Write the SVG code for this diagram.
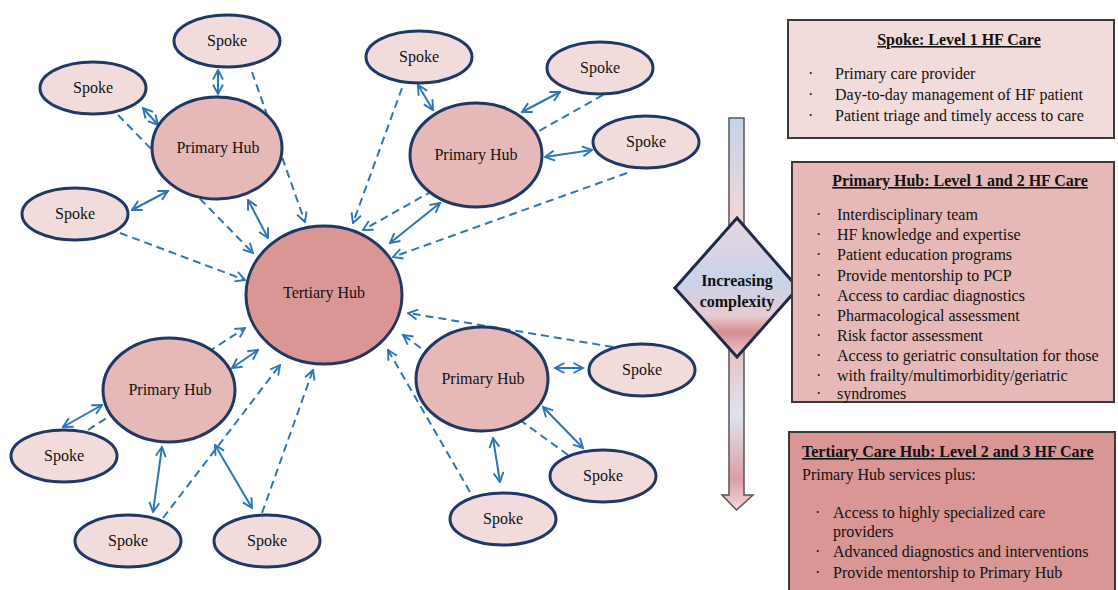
<svg xmlns="http://www.w3.org/2000/svg" width="1118" height="590" viewBox="0 0 1118 590">
<defs>
<style>
.lbl{font-family:"Liberation Serif","Times New Roman",serif;font-size:16px;fill:#111;text-anchor:middle}
.spoke{fill:#f2dcdb;stroke:#1f3864;stroke-width:3}
.phub{fill:#e6b9b8;stroke:#1f3864;stroke-width:3}
.thub{fill:#d99694;stroke:#1f3864;stroke-width:3}
.dbl{fill:none;stroke:#2e75b6;stroke-width:2;marker-start:url(#ah);marker-end:url(#ah)}
.dsh{fill:none;stroke:#2e75b6;stroke-width:2;stroke-dasharray:8 5;marker-end:url(#ah)}
.box{stroke:#3a3a3a;stroke-width:2}
.bt{font-family:"Liberation Serif","Times New Roman",serif;font-size:16px;fill:#111}
.ttl{font-weight:bold;text-decoration:underline}
.dt{font-family:"Liberation Serif","Times New Roman",serif;font-size:16px;font-weight:bold;fill:#111;text-anchor:middle}
</style>
<marker id="ah" viewBox="0 0 12 12" refX="10.5" refY="6" markerWidth="12" markerHeight="12" markerUnits="userSpaceOnUse" orient="auto-start-reverse">
<path d="M1,1 L10.5,6 L1,11" fill="none" stroke="#2e75b6" stroke-width="1.9"/>
</marker>
<linearGradient id="shaft" x1="0" y1="118" x2="0" y2="510" gradientUnits="userSpaceOnUse">
<stop offset="0" stop-color="#c5d3ea"/>
<stop offset="0.25" stop-color="#f0d6d8"/>
<stop offset="0.6" stop-color="#e8c4c8"/>
<stop offset="0.76" stop-color="#dfe3f0"/>
<stop offset="0.92" stop-color="#dc9ea2"/>
<stop offset="1" stop-color="#f0d8dc"/>
</linearGradient>
<linearGradient id="dia" x1="0" y1="218" x2="0" y2="357" gradientUnits="userSpaceOnUse">
<stop offset="0" stop-color="#ead6e0"/>
<stop offset="0.45" stop-color="#c8d3ea"/>
<stop offset="0.7" stop-color="#e6cbd2"/>
<stop offset="0.82" stop-color="#d58f94"/>
<stop offset="1" stop-color="#ecc8cc"/>
</linearGradient>
</defs>
<rect width="1118" height="590" fill="#ffffff"/>

<g id="connectors">
<line class="dbl" x1="218" y1="70" x2="218" y2="94"/>
<line class="dbl" x1="143" y1="108" x2="158" y2="125"/>
<line class="dbl" x1="132" y1="210" x2="168" y2="191"/>
<line class="dbl" x1="248" y1="200" x2="268" y2="238"/>
<line class="dbl" x1="418" y1="85" x2="433" y2="110"/>
<line class="dbl" x1="560" y1="92" x2="522" y2="112"/>
<line class="dbl" x1="545" y1="157" x2="592" y2="150"/>
<line class="dbl" x1="440" y1="203" x2="390" y2="243"/>
<line class="dbl" x1="232" y1="368" x2="258" y2="350"/>
<line class="dbl" x1="63" y1="427" x2="102" y2="405"/>
<line class="dbl" x1="153" y1="512" x2="162" y2="447"/>
<line class="dbl" x1="252" y1="508" x2="215" y2="445"/>
<line class="dbl" x1="555" y1="368" x2="583" y2="368"/>
<line class="dbl" x1="543" y1="407" x2="583" y2="448"/>
<line class="dbl" x1="493" y1="438" x2="500" y2="482"/>
<line class="dsh" x1="252" y1="72" x2="305" y2="222"/>
<line class="dsh" x1="118" y1="115" x2="253" y2="253"/>
<line class="dsh" x1="120" y1="233" x2="245" y2="280"/>
<line class="dsh" x1="402" y1="88" x2="353" y2="223"/>
<line class="dsh" x1="603" y1="95" x2="363" y2="230"/>
<line class="dsh" x1="627" y1="173" x2="393" y2="257"/>
<line class="dsh" x1="88" y1="430" x2="245" y2="328"/>
<line class="dsh" x1="163" y1="518" x2="280" y2="365"/>
<line class="dsh" x1="262" y1="513" x2="313" y2="370"/>
<line class="dsh" x1="613" y1="347" x2="408" y2="313"/>
<line class="dsh" x1="568" y1="455" x2="403" y2="335"/>
<line class="dsh" x1="470" y1="492" x2="388" y2="350"/>
</g>

<g id="tertiary-hub"><ellipse class="thub" cx="324" cy="295" rx="78" ry="69"/><text class="lbl" x="324" y="298">Tertiary Hub</text></g>
<g id="primary-hub-tl"><ellipse class="phub" cx="217" cy="148" rx="65" ry="51"/><text class="lbl" x="218" y="153">Primary Hub</text></g>
<g id="primary-hub-tr"><ellipse class="phub" cx="476" cy="155" rx="66" ry="52"/><text class="lbl" x="476" y="160">Primary Hub</text></g>
<g id="primary-hub-bl"><ellipse class="phub" cx="169" cy="390" rx="66" ry="52"/><text class="lbl" x="170" y="395">Primary Hub</text></g>
<g id="primary-hub-br"><ellipse class="phub" cx="482" cy="379" rx="66" ry="52"/><text class="lbl" x="483" y="384">Primary Hub</text></g>

<g id="spoke-1"><ellipse class="spoke" cx="227" cy="41" rx="53" ry="26"/><text class="lbl" x="227" y="46">Spoke</text></g>
<g id="spoke-2"><ellipse class="spoke" cx="93" cy="88" rx="53" ry="26"/><text class="lbl" x="93" y="93">Spoke</text></g>
<g id="spoke-3"><ellipse class="spoke" cx="75" cy="214" rx="53" ry="26"/><text class="lbl" x="75" y="219">Spoke</text></g>
<g id="spoke-4"><ellipse class="spoke" cx="419" cy="57" rx="53" ry="26"/><text class="lbl" x="419" y="62">Spoke</text></g>
<g id="spoke-5"><ellipse class="spoke" cx="600" cy="68" rx="53" ry="26"/><text class="lbl" x="600" y="73">Spoke</text></g>
<g id="spoke-6"><ellipse class="spoke" cx="646" cy="142" rx="53" ry="26"/><text class="lbl" x="646" y="147">Spoke</text></g>
<g id="spoke-7"><ellipse class="spoke" cx="64" cy="456" rx="53" ry="26"/><text class="lbl" x="64" y="461">Spoke</text></g>
<g id="spoke-8"><ellipse class="spoke" cx="128" cy="541" rx="53" ry="26"/><text class="lbl" x="128" y="546">Spoke</text></g>
<g id="spoke-9"><ellipse class="spoke" cx="267" cy="541" rx="53" ry="26"/><text class="lbl" x="267" y="546">Spoke</text></g>
<g id="spoke-10"><ellipse class="spoke" cx="642" cy="370" rx="53" ry="26"/><text class="lbl" x="642" y="375">Spoke</text></g>
<g id="spoke-11"><ellipse class="spoke" cx="603" cy="476" rx="53" ry="26"/><text class="lbl" x="603" y="481">Spoke</text></g>
<g id="spoke-12"><ellipse class="spoke" cx="503" cy="519" rx="53" ry="26"/><text class="lbl" x="503" y="524">Spoke</text></g>

<g id="complexity-arrow">
<path d="M729,118 L744,118 L744,495 L753,495 L736.5,510 L722,495 L729,495 Z" fill="url(#shaft)" stroke="#555" stroke-width="1.5"/>
<polygon points="737,218 798,288 737,357 675,288" fill="url(#dia)" stroke="#1f2a44" stroke-width="3"/>
<text class="dt" x="737" y="286">Increasing</text>
<text class="dt" x="737" y="307">complexity</text>
</g>

<g id="box-spoke">
<rect class="box" x="788" y="20" width="326" height="118" fill="#f2dcdb"/>
<text class="bt ttl" x="959" y="45" text-anchor="middle">Spoke: Level 1 HF Care</text>
<g class="bt">
<text x="808" y="79">·</text><text x="835" y="79">Primary care provider</text>
<text x="808" y="100">·</text><text x="835" y="100">Day-to-day management of HF patient</text>
<text x="808" y="121">·</text><text x="835" y="121">Patient triage and timely access to care</text>
</g>
</g>

<g id="box-primary">
<rect class="box" x="792" y="162" width="322" height="240" fill="#e6b9b8"/>
<text class="bt ttl" x="960" y="186" text-anchor="middle">Primary Hub: Level 1 and 2 HF Care</text>
<g class="bt">
<text x="816" y="220">·</text><text x="837" y="220">Interdisciplinary team</text>
<text x="816" y="240">·</text><text x="837" y="240">HF knowledge and expertise</text>
<text x="816" y="260">·</text><text x="837" y="260">Patient education programs</text>
<text x="816" y="281">·</text><text x="837" y="281">Provide mentorship to PCP</text>
<text x="816" y="301">·</text><text x="837" y="301">Access to cardiac diagnostics</text>
<text x="816" y="321">·</text><text x="837" y="321">Pharmacological assessment</text>
<text x="816" y="341">·</text><text x="837" y="341">Risk factor assessment</text>
<text x="816" y="361">·</text><text x="837" y="361">Access to geriatric consultation for those</text>
<text x="816" y="381">·</text><text x="837" y="381">with frailty/multimorbidity/geriatric</text>
<text x="816" y="399">·</text><text x="837" y="399">syndromes</text>
</g>
</g>

<g id="box-tertiary">
<rect class="box" x="789" y="432" width="326" height="165" fill="#d99694"/>
<text class="bt ttl" x="802" y="457">Tertiary Care Hub: Level 2 and 3 HF Care</text>
<text class="bt" x="802" y="480">Primary Hub services plus:</text>
<g class="bt">
<text x="815" y="518">·</text><text x="833" y="518">Access to highly specialized care</text>
<text x="833" y="537">providers</text>
<text x="815" y="557">·</text><text x="833" y="557">Advanced diagnostics and interventions</text>
<text x="815" y="578">·</text><text x="833" y="578">Provide mentorship to Primary Hub</text>
</g>
</g>
</svg>
